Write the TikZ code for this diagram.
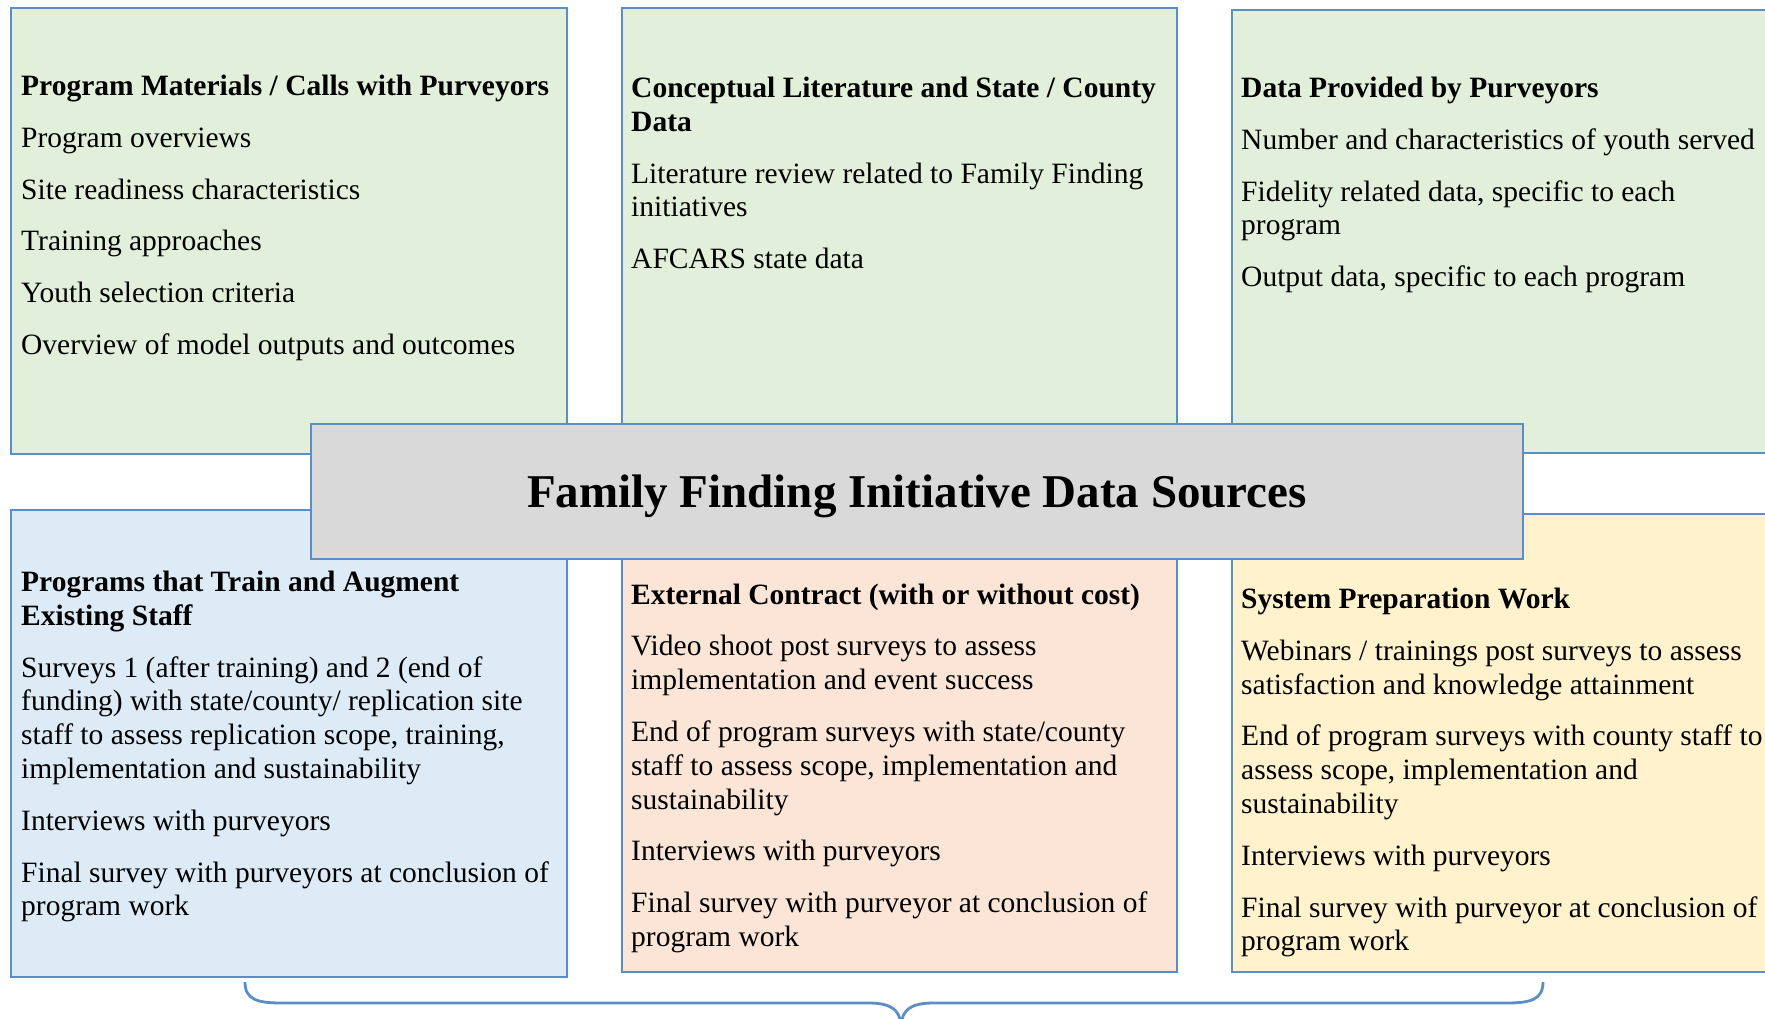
\documentclass[tikz,border=0pt]{standalone}
\usepackage{fontspec}
\setmainfont{Liberation Serif}
\definecolor{bordc}{HTML}{5A8EC6}
\definecolor{greenf}{HTML}{E2EFDA}
\definecolor{bluef}{HTML}{DDEBF7}
\definecolor{peachf}{HTML}{FBE5D6}
\definecolor{yellowf}{HTML}{FFF2CC}
\definecolor{grayf}{HTML}{D9D9D9}
\newcommand{\boxtext}[1]{\parbox[t]{600pt}{\raggedright\setlength{\parskip}{18pt}\setlength{\parindent}{0pt}#1}}
\tikzset{
  panel/.style={draw=bordc, line width=2.8pt, rectangle, inner sep=0pt, outer sep=0pt, anchor=north west},
  txt/.style={anchor=base west, inner sep=0pt, font=\fontsize{29.5}{33.8}\selectfont},
  bracestyle/.style={draw=bordc, line width=2.8pt}
}
\begin{document}
\begin{tikzpicture}[x=1pt,y=-1pt]
\useasboundingbox (0,0) rectangle (1765,1019);
\clip (0,0) rectangle (1765,1019);
\fill[white] (0,0) rectangle (1765,1019);
% top row
\node[panel, fill=greenf, minimum width=556pt, minimum height=446pt] (b1) at (11,8) {};
\node[panel, fill=greenf, minimum width=555pt, minimum height=446pt] (b2) at (622,8) {};
\node[panel, fill=greenf, minimum width=600pt, minimum height=443pt] (b3) at (1232,10) {};
% bottom row
\node[panel, fill=bluef, minimum width=556pt, minimum height=467pt] (b4) at (11,510) {};
\node[panel, fill=peachf, minimum width=555pt, minimum height=462pt] (b5) at (622,510) {};
\node[panel, fill=yellowf, minimum width=600pt, minimum height=458pt] (b6) at (1232,514) {};
% texts
\node[txt] (t1) at (21,95.5) {\boxtext{\textbf{Program Materials / Calls with Purveyors}\par
Program overviews\par
Site readiness characteristics\par
Training approaches\par
Youth selection criteria\par
Overview of model outputs and outcomes}};
\node[txt] (t2) at (631,97.5) {\boxtext{\textbf{Conceptual Literature and State / County\\ Data}\par
Literature review related to Family Finding\\ initiatives\par
AFCARS state data}};
\node[txt] (t3) at (1241,97.5) {\boxtext{\textbf{Data Provided by Purveyors}\par
Number and characteristics of youth served\par
Fidelity related data, specific to each\\ program\par
Output data, specific to each program}};
\node[txt] (t4) at (21,591.5) {\boxtext{\textbf{Programs that Train and Augment\\ Existing Staff}\par
Surveys 1 (after training) and 2 (end of\\ funding) with state/county/ replication site\\ staff to assess replication scope, training,\\ implementation and sustainability\par
Interviews with purveyors\par
Final survey with purveyors at conclusion of\\ program work}};
\node[txt] (t5) at (631,604) {\boxtext{\textbf{External Contract (with or without cost)}\par
Video shoot post surveys to assess\\ implementation and event success\par
End of program surveys with state/county\\ staff to assess scope, implementation and\\ sustainability\par
Interviews with purveyors\par
Final survey with purveyor at conclusion of\\ program work}};
\node[txt] (t6) at (1241,608.5) {\boxtext{\textbf{System Preparation Work}\par
Webinars / trainings post surveys to assess\\ satisfaction and knowledge attainment\par
End of program surveys with county staff to\\ assess scope, implementation and\\ sustainability\par
Interviews with purveyors\par
Final survey with purveyor at conclusion of\\ program work}};
% center title
\node[panel, fill=grayf, minimum width=1212pt, minimum height=135pt] (title) at (311,424) {};
\node[inner sep=0pt, yshift=-4.5pt, font=\fontsize{47}{54}\selectfont\bfseries] (titletext) at (title.center) {Family Finding Initiative Data Sources};
% brace
\coordinate (brL) at (245,982);
\coordinate (brR) at (1543,982);
\coordinate (brT) at (901,1024);
\draw[bracestyle] (brL) .. controls (245,1000) and (258,1003) .. (282,1003) -- (868,1003) .. controls (892,1003) and (899,1010) .. (brT);
\draw[bracestyle] (brT) .. controls (903,1010) and (910,1003) .. (934,1003) -- (1506,1003) .. controls (1530,1003) and (1543,1000) .. (brR);
\end{tikzpicture}
\end{document}
